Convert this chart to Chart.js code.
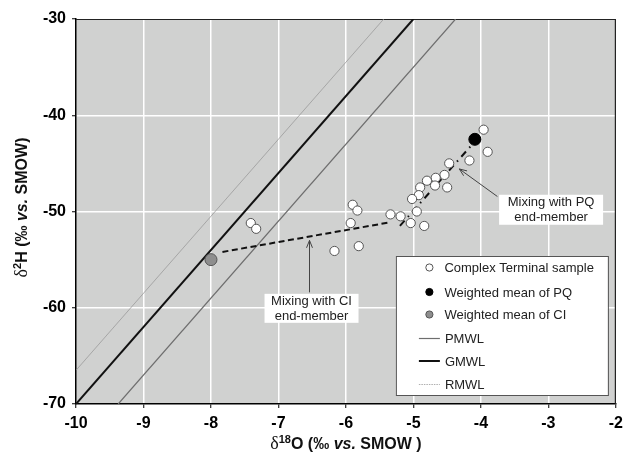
<!DOCTYPE html>
<html>
<head>
<meta charset="utf-8">
<script src="https://cdn.jsdelivr.net/npm/chart.js@4.4.0/dist/chart.umd.min.js"></script>
<style>
  html, body { margin: 0; padding: 0; background: #fff; }
  #wrap { width: 629px; height: 462px; }
</style>
</head>
<body>
<div id="wrap"><canvas id="chart" width="629" height="462"></canvas></div>
<script>
// axis ticks
const xTicks = [-10, -9, -8, -7, -6, -5, -4, -3, -2];
const yTicks = [-70, -60, -50, -40, -30];

// Complex Terminal samples (d18O, d2H)
const sampleO = [-3.96, -3.90, -4.17, -4.47, -4.54, -4.67, -4.80, -4.68, -4.90, -4.50, -4.92, -5.02,
                 -4.95, -5.34, -5.19, -5.04, -4.84, -7.41, -7.33, -5.90, -5.83, -5.93, -6.17, -5.81];
const sampleH = [-41.5, -43.8, -44.7, -45.0, -46.2, -46.5, -46.8, -47.3, -47.5, -47.5, -48.3, -48.7,
                 -50.0, -50.3, -50.5, -51.2, -51.5, -51.2, -51.8, -49.3, -49.9, -51.2, -54.1, -53.6];

// weighted means
const pqMeanO = [-4.09];
const pqMeanH = [-42.5];
const ciMeanO = [-8.0];
const ciMeanH = [-55.0];

// mixing lines
const ciMixO = [-7.83, -5.37];
const ciMixH = [-54.2, -51.15];
const pqMixO = [-5.2, -4.15];
const pqMixH = [-51.5, -43.2];

// meteoric water lines (end points)
const pmwlO = [-9.375, -4.375];
const pmwlH = [-70, -30];
const gmwlO = [-10, -5];
const gmwlH = [-70, -30];
const rmwlO = [-10, -5.44];
const rmwlH = [-66.5, -30];

function pts(xs, ys) {
  return xs.map((x, i) => ({ x: x, y: ys[i] }));
}

const FONT = 'Arial, "Liberation Sans", sans-serif';

// background + top/right frame
const plotFrame = {
  id: 'plotFrame',
  beforeDraw(chart) {
    const { ctx, chartArea: a } = chart;
    ctx.save();
    ctx.fillStyle = '#d0d1d0';
    ctx.fillRect(a.left, a.top, a.right - a.left, a.bottom - a.top);
    ctx.restore();
  },
  beforeDatasetsDraw(chart) {
    const { ctx, chartArea: a } = chart;
    ctx.save();
    ctx.strokeStyle = '#222';
    ctx.lineWidth = 1.2;
    ctx.beginPath();
    ctx.moveTo(a.left, a.top + 0.5);
    ctx.lineTo(a.right - 0.5, a.top + 0.5);
    ctx.lineTo(a.right - 0.5, a.bottom);
    ctx.stroke();
    ctx.restore();
  }
};

function drawRich(ctx, parts, x, y, center) {
  let w = 0;
  parts.forEach(p => { ctx.font = p.font; w += ctx.measureText(p.t).width; });
  let cx = center ? x - w / 2 : x;
  parts.forEach(p => {
    ctx.font = p.font;
    ctx.fillText(p.t, cx, y + (p.dy || 0));
    cx += ctx.measureText(p.t).width;
  });
}

function arrow(ctx, x1, y1, x2, y2) {
  const ang = Math.atan2(y2 - y1, x2 - x1);
  const len = 8, spread = 0.38;
  ctx.beginPath();
  ctx.moveTo(x1, y1);
  ctx.lineTo(x2, y2);
  ctx.moveTo(x2 - len * Math.cos(ang - spread), y2 - len * Math.sin(ang - spread));
  ctx.lineTo(x2, y2);
  ctx.lineTo(x2 - len * Math.cos(ang + spread), y2 - len * Math.sin(ang + spread));
  ctx.stroke();
}

const notes = [
  { lines: ['Mixing with CI', 'end-member'], x: -6.51, y: -60.06, w: 94, h: 29,
    from: [-6.54, -58.4], to: [-6.54, -53.0] },
  { lines: ['Mixing with PQ', 'end-member'], x: -2.96, y: -49.82, w: 104, h: 30,
    from: [-3.756, -48.44], to: [-4.32, -45.58] }
];

const extras = {
  id: 'extras',
  afterDraw(chart) {
    const { ctx, chartArea: a } = chart;
    const xs = chart.scales.x, ys = chart.scales.y;
    ctx.save();

    // annotations
    notes.forEach(n => {
      ctx.strokeStyle = '#444';
      ctx.lineWidth = 1;
      arrow(ctx, xs.getPixelForValue(n.from[0]), ys.getPixelForValue(n.from[1]),
                 xs.getPixelForValue(n.to[0]), ys.getPixelForValue(n.to[1]));
      const cx = xs.getPixelForValue(n.x), cy = ys.getPixelForValue(n.y);
      ctx.fillStyle = '#fff';
      ctx.fillRect(cx - n.w / 2, cy - n.h / 2, n.w, n.h);
      ctx.fillStyle = '#222';
      ctx.font = '13px ' + FONT;
      ctx.textAlign = 'center';
      ctx.textBaseline = 'middle';
      ctx.fillText(n.lines[0], cx, cy - 7);
      ctx.fillText(n.lines[1], cx, cy + 8);
    });

    // legend
    const L = a.right - 220, T = a.bottom - 148, W = 212, H = 139;
    ctx.fillStyle = '#fff';
    ctx.fillRect(L, T, W, H);
    ctx.strokeStyle = '#555';
    ctx.lineWidth = 1;
    ctx.strokeRect(L + 0.5, T + 0.5, W, H);
    const rows = [11.5, 36, 58.5, 82.5, 105, 128.5];
    const ds = chart.data.datasets;
    ctx.textAlign = 'left';
    ctx.textBaseline = 'middle';
    ctx.font = '13px ' + FONT;
    for (let i = 0; i < 6; i++) {
      const d = ds[[0, 1, 2, 5, 6, 7][i]];
      const y = T + rows[i];
      if (i < 3) {
        ctx.beginPath();
        ctx.arc(L + 33.5, y, 3.6, 0, Math.PI * 2);
        ctx.fillStyle = d.backgroundColor;
        ctx.fill();
        ctx.strokeStyle = d.borderColor;
        ctx.lineWidth = 1;
        ctx.stroke();
      } else {
        ctx.beginPath();
        ctx.moveTo(L + 23, y);
        ctx.lineTo(L + 44, y);
        ctx.strokeStyle = d.borderColor;
        ctx.lineWidth = d.borderWidth;
        ctx.setLineDash(i === 5 ? [1.5, 1] : []);
        ctx.stroke();
        ctx.setLineDash([]);
      }
      ctx.fillStyle = '#222';
      ctx.fillText(d.label, i < 3 ? L + 48.5 : L + 49, y + 1);
    }

    // axis titles
    ctx.fillStyle = '#111';
    ctx.textAlign = 'left';
    ctx.textBaseline = 'alphabetic';
    drawRich(ctx, [
      { t: '\u03b4', font: '18px "Liberation Serif", serif' },
      { t: '18', font: 'bold 11px ' + FONT, dy: -6 },
      { t: 'O (\u2030 ', font: 'bold 16px ' + FONT },
      { t: 'vs.', font: 'italic bold 16px ' + FONT },
      { t: ' SMOW )', font: 'bold 16px ' + FONT }
    ], (a.left + a.right) / 2, 449, true);

    ctx.translate(27, (a.top + a.bottom) / 2 - 4);
    ctx.rotate(-Math.PI / 2);
    drawRich(ctx, [
      { t: '\u03b4', font: '18px "Liberation Serif", serif' },
      { t: '2', font: 'bold 11px ' + FONT, dy: -6 },
      { t: 'H (\u2030 ', font: 'bold 16px ' + FONT },
      { t: 'vs.', font: 'italic bold 16px ' + FONT },
      { t: ' SMOW)', font: 'bold 16px ' + FONT }
    ], 0, 0, true);
    ctx.restore();
  }
};

const tickFont = { family: FONT, weight: 'bold', size: 16 };
const gridColor = edge => ctx => {
  const v = ctx.tick ? ctx.tick.value : null;
  return (v === edge[0] || v === edge[1]) ? 'rgba(0,0,0,0)' : '#ffffff';
};

new Chart(document.getElementById('chart'), {
  type: 'scatter',
  data: {
    datasets: [
      { label: 'Complex Terminal sample', data: pts(sampleO, sampleH), order: 0,
        backgroundColor: '#ffffff', borderColor: '#555555', borderWidth: 1, pointRadius: 4.6 },
      { label: 'Weighted mean of PQ', data: pts(pqMeanO, pqMeanH), order: 1,
        backgroundColor: '#000000', borderColor: '#000000', borderWidth: 1, pointRadius: 6 },
      { label: 'Weighted mean of CI', data: pts(ciMeanO, ciMeanH), order: 2,
        backgroundColor: '#8e8e8e', borderColor: '#555555', borderWidth: 1, pointRadius: 6 },
      { label: 'CI mixing', data: pts(ciMixO, ciMixH), order: 3, showLine: true, pointRadius: 0,
        borderColor: '#111111', borderWidth: 2, borderDash: [6, 3.5] },
      { label: 'PQ mixing', data: pts(pqMixO, pqMixH), order: 4, showLine: true, pointRadius: 0,
        borderColor: '#111111', borderWidth: 2, borderDash: [7, 5, 1.5, 5] },
      { label: 'PMWL', data: pts(pmwlO, pmwlH), order: 5, showLine: true, pointRadius: 0,
        borderColor: '#6e6e6e', borderWidth: 1.2 },
      { label: 'GMWL', data: pts(gmwlO, gmwlH), order: 6, showLine: true, pointRadius: 0,
        borderColor: '#111111', borderWidth: 2 },
      { label: 'RMWL', data: pts(rmwlO, rmwlH), order: 7, showLine: true, pointRadius: 0,
        borderColor: '#9a9a9a', borderWidth: 0.8 }
    ]
  },
  options: {
    responsive: false,
    animation: false,
    devicePixelRatio: 1,
    layout: { padding: { left: 0, top: 19, right: 10, bottom: 0 } },
    plugins: { legend: { display: false }, tooltip: { enabled: false } },
    scales: {
      x: {
        type: 'linear', min: -10, max: -2,
        afterFit(s) { s.height = 58; },
        afterBuildTicks(s) { s.ticks = xTicks.map(v => ({ value: v })); },
        ticks: { font: tickFont, color: '#000', padding: 6, autoSkip: false, maxRotation: 0 },
        grid: { color: gridColor([-10, -2]), lineWidth: 1.5, tickLength: 4, tickColor: '#000', tickWidth: 1 },
        border: { color: '#000', width: 1.5 }
      },
      y: {
        type: 'linear', min: -70, max: -30,
        afterFit(s) { s.width = 76; },
        afterBuildTicks(s) { s.ticks = yTicks.map(v => ({ value: v })); },
        ticks: { font: tickFont, color: '#000', padding: 6 },
        grid: { color: gridColor([-70, -30]), lineWidth: 1.5, tickLength: 4, tickColor: '#000', tickWidth: 1 },
        border: { color: '#000', width: 1.5 }
      }
    }
  },
  plugins: [plotFrame, extras]
});
</script>
</body>
</html>
